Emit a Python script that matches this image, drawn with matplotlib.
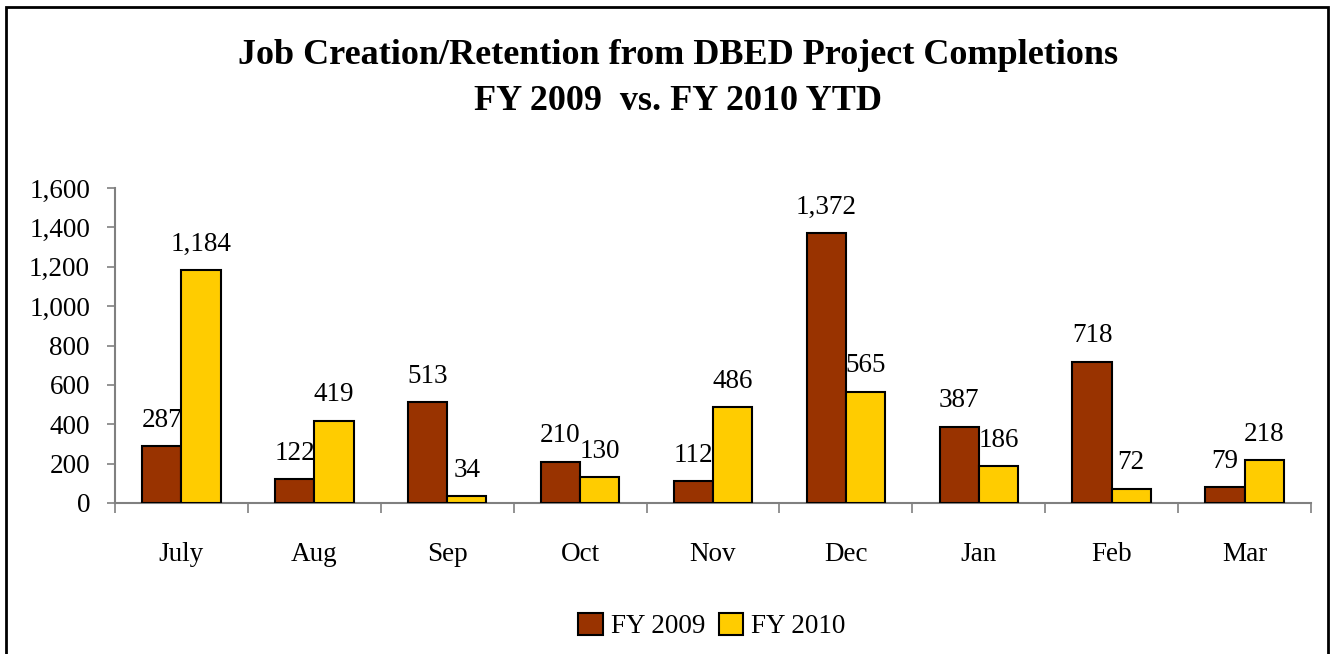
import matplotlib
matplotlib.use("Agg")
import matplotlib.pyplot as plt
import numpy as np
from matplotlib.patches import Rectangle, Patch
from matplotlib.ticker import FuncFormatter, FixedLocator

plt.rcParams['font.family'] = ['Liberation Serif', 'DejaVu Serif']

months = ["July", "Aug", "Sep", "Oct", "Nov", "Dec", "Jan", "Feb", "Mar"]
fy2009 = [287, 122, 513, 210, 112, 1372, 387, 718, 79]
fy2010 = [1184, 419, 34, 130, 486, 565, 186, 72, 218]
series_names = ["FY 2009", "FY 2010"]
title_lines = ["Job Creation/Retention from DBED Project Completions",
               "FY 2009  vs. FY 2010 YTD"]
yticks = [0, 200, 400, 600, 800, 1000, 1200, 1400, 1600]

c09 = "#993300"
c10 = "#FFCC00"

W, H = 1333, 654
fig = plt.figure(figsize=(W / 100, H / 100), dpi=100)
ax = fig.add_axes([115 / W, 1 - 503 / H, (1311 - 115) / W, (503 - 188) / H])

x = np.arange(len(months))
w = 0.295
b1 = ax.bar(x - w / 2, fy2009, w, color=c09, edgecolor="black", linewidth=1.5, zorder=3)
b2 = ax.bar(x + w / 2, fy2010, w, color=c10, edgecolor="black", linewidth=1.5, zorder=3)

fs = 19.5
for bars, vals in ((b1, fy2009), (b2, fy2010)):
    for r, v in zip(bars, vals):
        ax.annotate(f"{v:,}", (r.get_x() + r.get_width() / 2, v),
                    xytext=(0, 14), textcoords="offset points",
                    ha="center", va="baseline", fontsize=fs, zorder=4)

ax.set_xlim(-0.5, len(months) - 0.5)
ax.set_ylim(0, 1600)
ax.set_yticks(yticks)
ax.yaxis.set_major_formatter(FuncFormatter(lambda v, p: f"{int(v):,}"))
ax.tick_params(axis="y", length=6, width=1.2, color="#808080", pad=12, labelsize=fs)

ax.xaxis.set_major_locator(FixedLocator(np.arange(-0.5, len(months), 1.0)))
ax.xaxis.set_major_formatter(FuncFormatter(lambda v, p: ""))
ax.xaxis.set_minor_locator(FixedLocator(x))
ax.set_xticks(x, months, minor=True)
ax.tick_params(axis="x", which="major", length=7, width=1.2, color="#808080")
ax.tick_params(axis="x", which="minor", length=0, pad=28, labelsize=fs)

for s in ("top", "right"):
    ax.spines[s].set_visible(False)
for s in ("left", "bottom"):
    ax.spines[s].set_color("#808080")
    ax.spines[s].set_linewidth(1.5)

handles = [Patch(facecolor=c09, edgecolor="black", linewidth=1.5),
           Patch(facecolor=c10, edgecolor="black", linewidth=1.5)]
fig.legend(handles, series_names, loc="center", bbox_to_anchor=(712 / W, 1 - 626 / H),
           ncol=2, frameon=False, fontsize=fs, handlelength=0.9, handleheight=0.9,
           handletextpad=0.3, columnspacing=0.5)

fig.text(678 / W, 1 - 56 / H, title_lines[0], ha="center", va="center",
         fontsize=26, fontweight="bold")
fig.text(678 / W, 1 - 102 / H, title_lines[1], ha="center", va="center",
         fontsize=26, fontweight="bold")

fig.patches.append(Rectangle((6 / W, -0.1), (1328 - 6) / W, 1.1 - 7 / H,
                             transform=fig.transFigure, fill=False,
                             edgecolor="black", linewidth=2))

fig.savefig("out.png", dpi=100)
